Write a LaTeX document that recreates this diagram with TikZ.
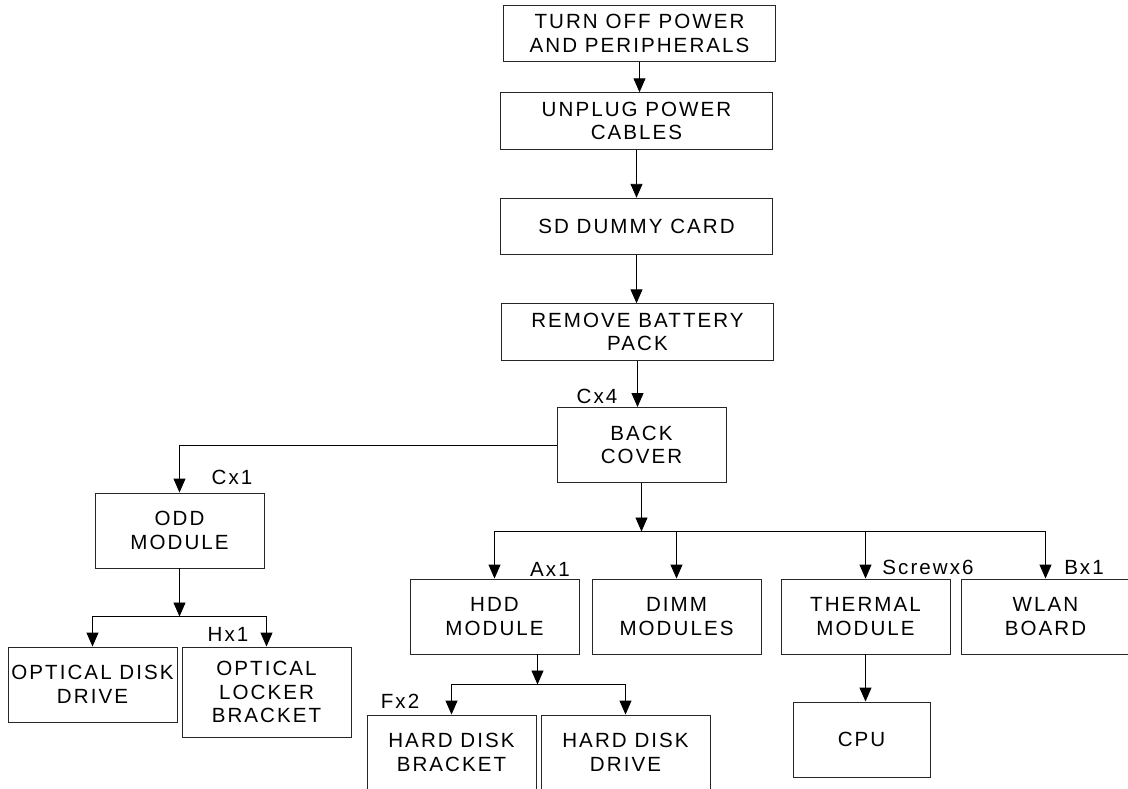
\documentclass[tikz,border=0pt]{standalone}
\usepackage{fontspec}
\setmainfont[LetterSpace=10]{Liberation Sans}
\usetikzlibrary{arrows.meta,positioning}

\begin{document}
\begin{tikzpicture}[
    x=0.02cm, y=-0.02cm,
    every node/.style={font=\fontsize{11.7}{13.4}\selectfont},
    box/.style={draw=black!85, line width=0.55pt, align=center, minimum width=3.38cm, minimum height=1.5cm, inner sep=1pt},
    wide/.style={box, minimum width=5.44cm, minimum height=1.13cm},
    tag/.style={inner sep=0pt},
    arr/.style={-{Triangle[length=2.8mm, width=2.4mm]}, line width=0.55pt}
]
\clip (0,0) rectangle (1128,788);
\fill[white] (0,0) rectangle (1128,788);
\node[wide] (off) at (639.5,33.5) {TURN OFF POWER\\AND PERIPHERALS};
\node[wide] (unplug) at (636.5,121) {UNPLUG POWER\\CABLES};
\node[wide] (sd) at (636.5,226.5) {SD DUMMY CARD};
\node[wide] (battery) at (637.5,332) {REMOVE BATTERY\\PACK};
\node[box] (back) at (641.5,445) {BACK\\COVER};
\node[box] (odd) at (179.5,530.5) {ODD\\MODULE};
\node[box] (odrive) at (92.5,684.5) {OPTICAL DISK\\DRIVE};
\node[box, minimum height=1.8cm] (locker) at (266.5,692) {OPTICAL\\LOCKER\\BRACKET};
\node[box] (hdd) at (494.5,616.5) {HDD\\MODULE};
\node[box] (dimm) at (676.5,616.5) {DIMM\\MODULES};
\node[box] (thermal) at (865.5,616.5) {THERMAL\\MODULE};
\node[box] (wlan) at (1045.5,616.5) {WLAN\\BOARD};
\node[box, minimum width=2.74cm] (cpu) at (861.5,739.5) {CPU};
\node[box] (bracket) at (451.5,752.5) {HARD DISK\\BRACKET};
\node[box] (hdrive) at (625.5,752.5) {HARD DISK\\DRIVE};
\node[tag] (cx4) at (597,396) {Cx4};
\node[tag] (cx1) at (232,477) {Cx1};
\node[tag] (hx1) at (228,634) {Hx1};
\node[tag] (ax1) at (550,569) {Ax1};
\node[tag] (screw) at (928,567) {Screwx6};
\node[tag] (bx1) at (1084,567) {Bx1};
\node[tag] (fx2) at (400,701) {Fx2};
\coordinate (backbar) at (641.5,531.5);
\coordinate (oddbar) at (179.5,616.5);
\coordinate (hddbar) at (537.5,684.5);
\draw[arr] (off.south) -- (off.south |- unplug.north);
\draw[arr] (unplug.south) -- (unplug.south |- sd.north);
\draw[arr] (sd.south) -- (sd.south |- battery.north);
\draw[arr] (battery.south) -- (battery.south |- back.north);
\draw[arr] (back.west) -| (odd.north);
\draw[arr] (back.south) -- (backbar);
\foreach \n in {hdd,dimm,thermal,wlan}
    \draw[arr] (backbar) -| (\n.north);
\draw[arr] (odd.south) -- (oddbar);
\foreach \n in {odrive,locker}
    \draw[arr] (oddbar) -| (\n.north);
\draw[arr] (hdd.south -| hddbar) -- (hddbar);
\foreach \n in {bracket,hdrive}
    \draw[arr] (hddbar) -| (\n.north);
\draw[arr] (thermal.south) -- (thermal.south |- cpu.north);
\end{tikzpicture}
\end{document}
